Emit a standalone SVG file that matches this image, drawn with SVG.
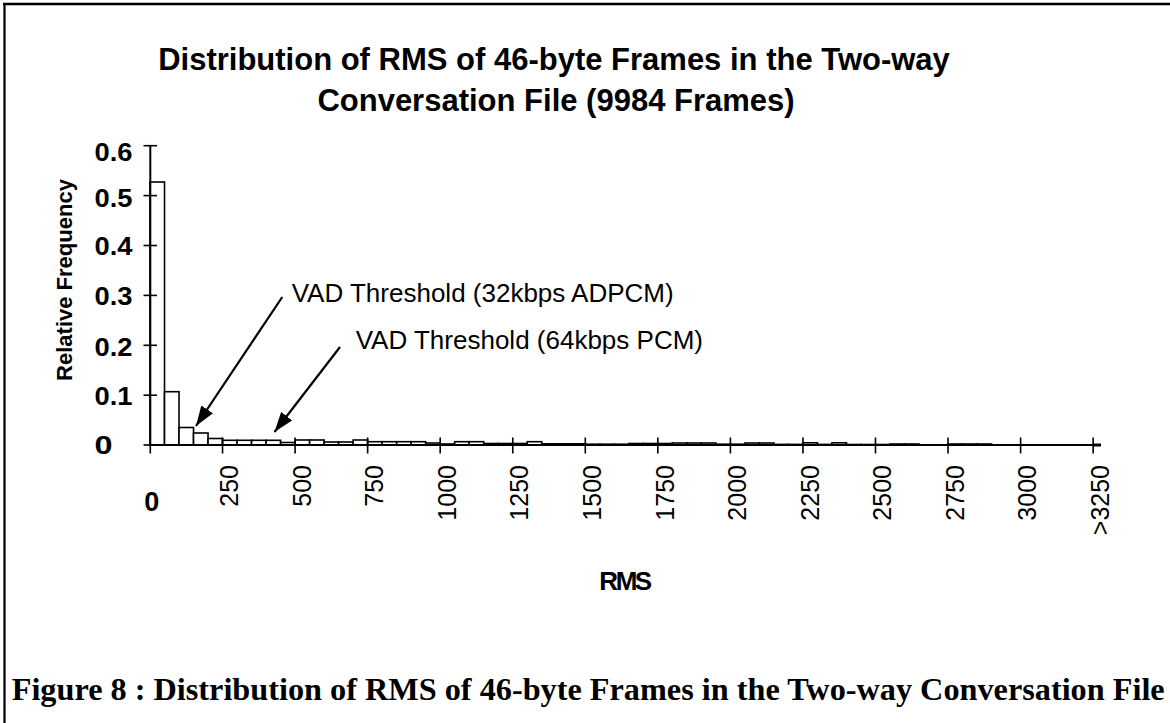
<svg xmlns="http://www.w3.org/2000/svg" width="1170" height="723" viewBox="0 0 1170 723">
  <defs>
    <style>
      .sans { font-family: "Liberation Sans", Arial, sans-serif; fill: #000; }
      .serif { font-family: "Liberation Serif", "Times New Roman", serif; fill: #000; }
      .b { font-weight: bold; }
      .ax { stroke: #000; stroke-width: 2; fill: none; }
      .tick { stroke: #000; stroke-width: 1.6; }
      .bar { fill: #fff; stroke: #000; stroke-width: 1.6; }
      .lead { stroke: #000; stroke-width: 2.2; fill: none; }
      .ylab { font-size: 26px; font-weight: bold; }
      .xlab { font-size: 25px; }
      .note { font-size: 26px; }
    </style>
    <marker id="head" viewBox="0 0 20 14" refX="20" refY="7" markerWidth="20" markerHeight="14" markerUnits="userSpaceOnUse" orient="auto">
      <path d="M0,0 L20,7 L0,14 z" fill="#000"/>
    </marker>
  </defs>

  <rect x="0" y="0" width="1170" height="723" fill="#fff"/>

  <!-- frame -->
  <g id="frame" fill="none" stroke="#000">
    <line x1="3" y1="4" x2="1170" y2="4" stroke-width="2.6"/>
    <line x1="4.5" y1="3" x2="4.5" y2="723" stroke-width="2.2"/>
  </g>

  <!-- chart title -->
  <g id="title" class="sans b" font-size="31" text-anchor="middle">
    <text x="554" y="70">Distribution of RMS of 46-byte Frames in the Two-way</text>
    <text x="556" y="110.5">Conversation File (9984 Frames)</text>
  </g>

  <!-- histogram bars, 50 RMS units per bin -->
  <g id="bars" class="bar">
    <rect x="150.00" y="182" width="14.51" height="263"/>
    <rect x="164.51" y="391.7" width="14.51" height="53.3"/>
    <rect x="179.02" y="427.5" width="14.51" height="17.5"/>
    <rect x="193.53" y="433" width="14.51" height="12"/>
    <rect x="208.04" y="438.5" width="14.51" height="6.5"/>
    <rect x="222.55" y="440.3" width="14.51" height="4.7"/>
    <rect x="237.06" y="440.3" width="14.51" height="4.7"/>
    <rect x="251.57" y="440.3" width="14.51" height="4.7"/>
    <rect x="266.08" y="440.3" width="14.51" height="4.7"/>
    <rect x="280.59" y="442.5" width="14.51" height="2.5"/>
    <rect x="295.10" y="440" width="14.51" height="5"/>
    <rect x="309.61" y="440" width="14.51" height="5"/>
    <rect x="324.12" y="442" width="14.51" height="3"/>
    <rect x="338.63" y="442" width="14.51" height="3"/>
    <rect x="353.14" y="440" width="14.51" height="5"/>
    <rect x="367.65" y="441.7" width="14.51" height="3.3"/>
    <rect x="382.16" y="441.7" width="14.51" height="3.3"/>
    <rect x="396.67" y="441.7" width="14.51" height="3.3"/>
    <rect x="411.18" y="441.7" width="14.51" height="3.3"/>
    <rect x="425.69" y="443" width="14.51" height="2"/>
    <rect x="440.20" y="444" width="14.51" height="1"/>
    <rect x="454.71" y="441.7" width="14.51" height="3.3"/>
    <rect x="469.22" y="441.7" width="14.51" height="3.3"/>
    <rect x="483.73" y="443.5" width="14.51" height="1.5"/>
    <rect x="498.24" y="443.5" width="14.51" height="1.5"/>
    <rect x="512.75" y="443.5" width="14.51" height="1.5"/>
    <rect x="527.26" y="441.7" width="14.51" height="3.3"/>
    <rect x="541.77" y="443.8" width="14.51" height="1.2"/>
    <rect x="556.28" y="443.8" width="14.51" height="1.2"/>
    <rect x="570.79" y="443.8" width="14.51" height="1.2"/>
    <rect x="585.30" y="444.2" width="14.51" height="0.8"/>
    <rect x="599.81" y="444.2" width="14.51" height="0.8"/>
    <rect x="614.32" y="444.2" width="14.51" height="0.8"/>
    <rect x="628.83" y="443.5" width="14.51" height="1.5"/>
    <rect x="643.34" y="443.5" width="14.51" height="1.5"/>
    <rect x="657.85" y="443.5" width="14.51" height="1.5"/>
    <rect x="672.36" y="443" width="14.51" height="2"/>
    <rect x="686.87" y="443" width="14.51" height="2"/>
    <rect x="701.38" y="443" width="14.51" height="2"/>
    <rect x="715.89" y="444.2" width="14.51" height="0.8"/>
    <rect x="730.40" y="444.2" width="14.51" height="0.8"/>
    <rect x="744.91" y="443" width="14.51" height="2"/>
    <rect x="759.42" y="443" width="14.51" height="2"/>
    <rect x="773.93" y="444.4" width="14.51" height="0.6"/>
    <rect x="788.44" y="444.4" width="14.51" height="0.6"/>
    <rect x="802.95" y="442.8" width="14.51" height="2.2"/>
    <rect x="817.46" y="444.4" width="14.51" height="0.6"/>
    <rect x="831.97" y="442.8" width="14.51" height="2.2"/>
    <rect x="846.48" y="444.5" width="14.51" height="0.5"/>
    <rect x="860.99" y="444.5" width="14.51" height="0.5"/>
    <rect x="875.50" y="444.5" width="14.51" height="0.5"/>
    <rect x="890.01" y="444" width="14.51" height="1"/>
    <rect x="904.52" y="444" width="14.51" height="1"/>
    <rect x="948.05" y="444" width="14.51" height="1"/>
    <rect x="962.56" y="444" width="14.51" height="1"/>
    <rect x="977.07" y="444" width="14.51" height="1"/>
  </g>

  <!-- axes and tick marks -->
  <g id="axes">
    <line class="ax" x1="150.3" y1="145.7" x2="150.3" y2="445"/>
    <line class="ax" x1="150" y1="445" x2="1100" y2="445"/>
    <rect x="1093" y="443.5" width="8" height="3" fill="#000"/>
    <g class="tick">
      <line x1="143.5" y1="145.7" x2="157" y2="145.7"/>
      <line x1="143.5" y1="195.6" x2="157" y2="195.6"/>
      <line x1="143.5" y1="245.5" x2="157" y2="245.5"/>
      <line x1="143.5" y1="295.4" x2="157" y2="295.4"/>
      <line x1="143.5" y1="345.3" x2="157" y2="345.3"/>
      <line x1="143.5" y1="395.2" x2="157" y2="395.2"/>
      <line x1="143.5" y1="445" x2="157" y2="445"/>

      <line x1="150.3" y1="445" x2="150.3" y2="453.5"/>
      <line x1="222.55" y1="437.5" x2="222.55" y2="453.5"/>
      <line x1="295.10" y1="437.5" x2="295.10" y2="453.5"/>
      <line x1="367.65" y1="437.5" x2="367.65" y2="453.5"/>
      <line x1="440.20" y1="437.5" x2="440.20" y2="453.5"/>
      <line x1="512.75" y1="437.5" x2="512.75" y2="453.5"/>
      <line x1="585.30" y1="437.5" x2="585.30" y2="453.5"/>
      <line x1="657.85" y1="437.5" x2="657.85" y2="453.5"/>
      <line x1="730.40" y1="437.5" x2="730.40" y2="453.5"/>
      <line x1="802.95" y1="437.5" x2="802.95" y2="453.5"/>
      <line x1="875.50" y1="437.5" x2="875.50" y2="453.5"/>
      <line x1="948.05" y1="437.5" x2="948.05" y2="453.5"/>
      <line x1="1020.60" y1="437.5" x2="1020.60" y2="453.5"/>
      <line x1="1093.15" y1="437.5" x2="1093.15" y2="453.5"/>
    </g>
  </g>

  <!-- y tick labels -->
  <g id="y-labels" class="sans ylab">
    <text x="94.5" y="161.3" textLength="38" lengthAdjust="spacingAndGlyphs">0.6</text>
    <text x="94.5" y="206.8" textLength="38" lengthAdjust="spacingAndGlyphs">0.5</text>
    <text x="94.5" y="255.1" textLength="38" lengthAdjust="spacingAndGlyphs">0.4</text>
    <text x="94.5" y="305.1" textLength="38" lengthAdjust="spacingAndGlyphs">0.3</text>
    <text x="94.5" y="356" textLength="38" lengthAdjust="spacingAndGlyphs">0.2</text>
    <text x="94.5" y="405.1" textLength="38" lengthAdjust="spacingAndGlyphs">0.1</text>
    <text x="94.5" y="454.3" textLength="18" lengthAdjust="spacingAndGlyphs">0</text>
  </g>

  <!-- y axis title -->
  <text id="y-title" class="sans b" font-size="22" text-anchor="middle" transform="translate(72.3,280) rotate(-90)">Relative Frequency</text>

  <!-- x tick labels -->
  <g id="x-labels" class="sans xlab" text-anchor="end">
    <text class="b" x="151.7" y="510.5" font-size="27" text-anchor="middle">0</text>
    <text transform="translate(238.2,465) rotate(-90)">250</text>
    <text transform="translate(310.7,465) rotate(-90)">500</text>
    <text transform="translate(383.3,465) rotate(-90)">750</text>
    <text transform="translate(455.8,465) rotate(-90)">1000</text>
    <text transform="translate(528.4,465) rotate(-90)">1250</text>
    <text transform="translate(600.9,465) rotate(-90)">1500</text>
    <text transform="translate(673.5,465) rotate(-90)">1750</text>
    <text transform="translate(746,465) rotate(-90)">2000</text>
    <text transform="translate(818.6,465) rotate(-90)">2250</text>
    <text transform="translate(891.1,465) rotate(-90)">2500</text>
    <text transform="translate(963.7,465) rotate(-90)">2750</text>
    <text transform="translate(1036.2,465) rotate(-90)">3000</text>
    <text transform="translate(1108.8,465) rotate(-90)">&gt;3250</text>
  </g>

  <!-- x axis title -->
  <text id="x-title" class="sans b" x="624.5" y="590" font-size="26" letter-spacing="-2.5" text-anchor="middle">RMS</text>

  <!-- threshold call-outs -->
  <g id="connectors">
    <line class="lead" x1="282.3" y1="297" x2="196" y2="426" marker-end="url(#head)"/>
    <line class="lead" x1="340" y1="347" x2="274.5" y2="432" marker-end="url(#head)"/>
  </g>
  <g id="notes" class="sans note">
    <text x="291.7" y="302">VAD Threshold (32kbps ADPCM)</text>
    <text x="355.7" y="348.5">VAD Threshold (64kbps PCM)</text>
  </g>

  <!-- figure caption -->
  <text id="caption" class="serif b" x="11.7" y="700" font-size="32" textLength="1153" lengthAdjust="spacingAndGlyphs">Figure 8 : Distribution of RMS of 46-byte Frames in the Two-way Conversation File</text>
</svg>
